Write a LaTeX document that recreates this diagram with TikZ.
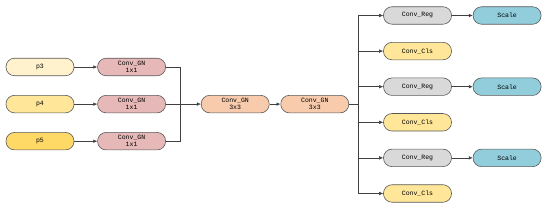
\documentclass[tikz,border=0pt]{standalone}
\usepackage{fontspec}
\setmonofont{Liberation Mono}
\usetikzlibrary{arrows.meta,positioning}

\definecolor{pthree}{HTML}{FFF2CC}
\definecolor{pfour}{HTML}{FFE699}
\definecolor{pfive}{HTML}{FFD966}
\definecolor{gnone}{HTML}{E6B8B7}
\definecolor{gnthree}{HTML}{F8CBAD}
\definecolor{regfill}{HTML}{D9D9D9}
\definecolor{clsfill}{HTML}{FFE699}
\definecolor{scalefill}{HTML}{92CDDC}

\begin{document}
\begin{tikzpicture}[x=1pt, y=1pt,
node distance=19pt and 23pt,
box/.style={rectangle, draw=black!65, rounded corners=8.5pt, minimum width=68pt, minimum height=17.5pt, inner sep=1pt, align=center, font=\ttfamily\fontsize{6.5}{7}\selectfont, line width=0.6pt},
arrow/.style={-{Latex[length=4pt, width=3.5pt]}, black!75, line width=0.5pt},
link/.style={black!75, line width=0.5pt}
]
\useasboundingbox (0,0) rectangle (550,205);

% inputs
\node[box, fill=pthree] (p3) at (40,138) {p3};
\node[box, fill=pfour, below=of p3] (p4) {p4};
\node[box, fill=pfive, below=of p4] (p5) {p5};

\node[box, fill=gnone, right=of p3] (gna) {Conv\_GN\\1x1};
\node[box, fill=gnone, right=of p4] (gnb) {Conv\_GN\\1x1};
\node[box, fill=gnone, right=of p5] (gnc) {Conv\_GN\\1x1};
\coordinate[right=14pt of gnb] (merge);

\node[box, fill=gnthree, right=35pt of gnb] (conva) {Conv\_GN\\3x3};
\node[box, fill=gnthree, right=11pt of conva] (convb) {Conv\_GN\\3x3};
\coordinate[right=9pt of convb] (split);

% heads
\node[box, fill=regfill] (rega) at (417.5,189.5) {Conv\_Reg};
\node[box, fill=clsfill, below=17.5pt of rega] (clsa) {Conv\_Cls};
\node[box, fill=regfill, below=17.5pt of clsa] (regb) {Conv\_Reg};
\node[box, fill=clsfill, below=17.5pt of regb] (clsb) {Conv\_Cls};
\node[box, fill=regfill, below=17.5pt of clsb] (regc) {Conv\_Reg};
\node[box, fill=clsfill, below=17.5pt of regc] (clsc) {Conv\_Cls};

\node[box, fill=scalefill, right=21pt of rega] (sca) {Scale};
\node[box, fill=scalefill, right=21pt of regb] (scb) {Scale};
\node[box, fill=scalefill, right=21pt of regc] (scc) {Scale};

\draw[arrow] (p3) -- (gna);
\draw[arrow] (p4) -- (gnb);
\draw[arrow] (p5) -- (gnc);
\draw[link] (gna.east) -| (merge);
\draw[link] (gnc.east) -| (merge);
\draw[arrow] (gnb) -- (conva);
\draw[arrow] (conva) -- (convb);
\draw[link] (convb) -- (split);
\draw[link] (split |- rega) -- (split |- clsc);
\draw[arrow] (split |- rega) -- (rega);
\draw[arrow] (split |- clsa) -- (clsa);
\draw[arrow] (split |- regb) -- (regb);
\draw[arrow] (split |- clsb) -- (clsb);
\draw[arrow] (split |- regc) -- (regc);
\draw[arrow] (split |- clsc) -- (clsc);
\draw[arrow] (rega) -- (sca);
\draw[arrow] (regb) -- (scb);
\draw[arrow] (regc) -- (scc);
\end{tikzpicture}
\end{document}
